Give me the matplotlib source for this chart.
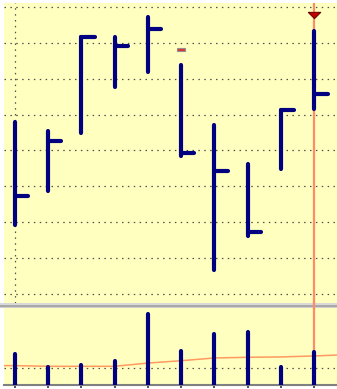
import numpy as np
import matplotlib.pyplot as plt
from matplotlib.patches import Rectangle
from matplotlib.lines import Line2D

# Datos de precios (máximo, mínimo, cierre) y volumen
high = [16.80, 16.55, 19.18, 19.18, 19.73, 18.39, 16.72, 15.63, 17.14, 19.34]
low = [13.91, 14.86, 16.48, 17.77, 18.19, 15.84, 12.66, 13.61, 15.48, 17.15]
close = [14.73, 16.27, 19.17, 18.92, 19.39, 15.93, 15.43, 13.72, 17.13, 17.58]
volume = [182, 106, 118, 141, 418, 200, 300, 312, 106, 194]
vol_ma = [114, 110, 110, 110, 129, 143, 159, 163, 165, 171]

marca_idx = 5        # marcador rojo pequeño
marca_val = 18.82
sel_idx = 9          # barra seleccionada
sel_val = 19.79

x = np.arange(len(close))
fondo = "#FFFFC0"
azul = "#000080"
salmon = "#FF8C69"

W, H = 337, 389
fig = plt.figure(figsize=(W / 100, H / 100), dpi=100)
fig.patch.set_facecolor("white")


def caja(x0, y0, x1, y1):
    # convierte pixeles (origen arriba-izquierda) a coordenadas de figura
    return [x0 / W, 1 - y1 / H, (x1 - x0) / W, (y1 - y0) / H]


ax = fig.add_axes(caja(4, 3, 337, 303))
axv = fig.add_axes(caja(4, 308, 337, 385))

xlim = (-0.32, 9.68)
punteado = (0, (1.2, 3.5))

# Panel de precios
ax.set_facecolor(fondo)
for p in range(12, 21):
    ax.axhline(p, color="#505050", lw=0.9, ls=punteado, zorder=1)
ax.axvline(0, color="#505050", lw=0.9, ls=punteado, zorder=1)
ax.axvline(sel_idx, color=salmon, lw=1.6, zorder=2)

for i in x:
    ax.plot([i, i], [low[i], high[i]], color=azul, lw=3.0,
            solid_capstyle="round", zorder=3)
    ax.plot([i, i + 0.40], [close[i], close[i]], color=azul, lw=3.0,
            solid_capstyle="round", zorder=3)

ax.add_patch(Rectangle((marca_idx - 0.12, marca_val - 0.05), 0.24, 0.10,
                       facecolor="#E03030", edgecolor="#909090", lw=0.8, zorder=4))
# triángulo achatado sobre la barra seleccionada
tri = [(-1, 0.5), (1, 0.5), (0, -0.5), (-1, 0.5)]
ax.plot(sel_idx, sel_val, marker=tri, ms=9, color="#C00000",
        mec="#700000", mew=0.8, zorder=5)

ax.set_xlim(*xlim)
ax.set_ylim(11.74, 20.12)
ax.set_xticks([])
ax.set_yticks([])
for s in ax.spines.values():
    s.set_visible(False)

# Panel de volumen
axv.set_facecolor(fondo)
axv.axhline(100, color="#505050", lw=0.9, ls=punteado, zorder=1)
axv.axvline(sel_idx, color=salmon, lw=1.6, zorder=2)
ma_x = [xlim[0]] + list(x) + [xlim[1]]
ma_y = [vol_ma[0]] + vol_ma + [vol_ma[-1] + 5]
axv.plot(ma_x, ma_y, color="#FF9A60", lw=1.1, zorder=2)
for i in x:
    axv.plot([i, i], [0, volume[i]], color=azul, lw=3.0,
             solid_capstyle="round", zorder=3)

axv.set_xlim(*xlim)
axv.set_ylim(0, 453)
axv.set_xticks(x)
axv.set_xticklabels([])
axv.set_yticks([])
axv.tick_params(axis="x", direction="out", length=2.5, width=1.2, color="#303050")
for s in ["top", "left", "right"]:
    axv.spines[s].set_visible(False)
axv.spines["bottom"].set_color("#808080")
axv.spines["bottom"].set_linewidth(1.5)

# Separador entre paneles
for y0, y1, c in [(303, 304.5, "#D8D8D8"), (304.5, 306.5, "#A8A8A8"), (306.5, 308, "#D0D0D0")]:
    fig.add_artist(Rectangle((0, 1 - y1 / H), 1, (y1 - y0) / H,
                             transform=fig.transFigure, color=c, lw=0))
xs = (4 + (sel_idx - xlim[0]) / (xlim[1] - xlim[0]) * 333) / W
fig.add_artist(Line2D([xs, xs], [1 - 308 / H, 1 - 303 / H],
                      transform=fig.transFigure, color=salmon, lw=1.6))

plt.savefig("out.png", dpi=100)
